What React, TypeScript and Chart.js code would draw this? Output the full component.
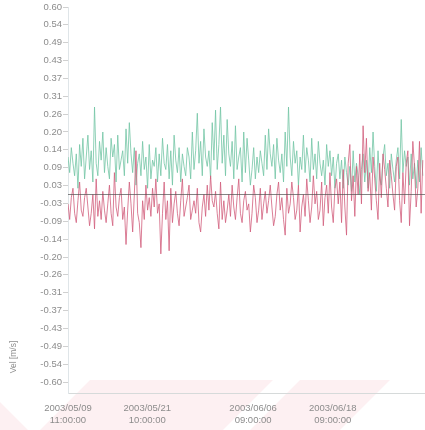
import React, { useEffect, useRef } from "react";
import { Chart, registerables } from "chart.js";

Chart.register(...registerables);

// ---- DATA ----
const START_UTC = "2003-05-09T11:00:00Z";
const STEP_HOURS = 6;
const X_MAX_HOURS = 1292;

const xTickDates = [
  "2003-05-09T11:00:00Z",
  "2003-05-21T10:00:00Z",
  "2003-06-06T09:00:00Z",
  "2003-06-18T09:00:00Z",
];
const xTickLabels = [
  ["2003/05/09", "11:00:00"],
  ["2003/05/21", "10:00:00"],
  ["2003/06/06", "09:00:00"],
  ["2003/06/18", "09:00:00"],
];

const yTickValues = [
  0.6, 0.5429, 0.4857, 0.4286, 0.3714, 0.3143, 0.2571, 0.2, 0.1429, 0.0857, 0.0286,
  -0.0286, -0.0857, -0.1429, -0.2, -0.2571, -0.3143, -0.3714, -0.4286, -0.4857, -0.5429, -0.6,
];
const yTickLabels = [
  "0.60", "0.54", "0.49", "0.43", "0.37", "0.31", "0.26", "0.20", "0.14", "0.09", "0.03",
  "-0.03", "-0.09", "-0.14", "-0.20", "-0.26", "-0.31", "-0.37", "-0.43", "-0.49", "-0.54", "-0.60",
];

const Y_TITLE = "Vel [m/s]";

const greenSeries = [
  0.12, 0.07, 0.15, 0.10, 0.06, 0.13, 0.02, 0.16, 0.09, 0.18,
  0.05, 0.12, 0.19, 0.08, 0.14, 0.04, 0.28, 0.10, 0.06, 0.17,
  0.11, 0.20, 0.07, 0.15, 0.09, 0.05, 0.18, 0.12, 0.16, 0.04,
  0.19, 0.08, 0.11, 0.14, 0.06, 0.21, 0.10, 0.23, 0.13, 0.07,
  0.15, 0.03, 0.10, 0.13, 0.06, 0.17, 0.08, 0.12, 0.02, 0.16,
  0.05, 0.11, 0.09, 0.15, 0.04,
  0.13, 0.06, 0.18, 0.10, 0.08, 0.16, 0.05, 0.14, 0.03, 0.19,
  0.11, 0.07, 0.15, 0.04, 0.13, 0.09, 0.06, 0.15, 0.12, 0.05,
  0.20, 0.08, 0.14, 0.26, 0.10, 0.17, 0.06, 0.21, 0.12, 0.09,
  0.14, 0.05, 0.23, 0.11, 0.27, 0.08, 0.16, 0.28, 0.10, 0.19,
  0.06, 0.24, 0.13, 0.09, 0.17, 0.05, 0.22, 0.08, 0.12, 0.15,
  0.04, 0.20, 0.07, 0.18,
  0.11, 0.03, 0.08, 0.15, 0.05, 0.12, 0.07, 0.14, 0.10, 0.06,
  0.19, 0.08, 0.21, 0.13, 0.09, 0.16, 0.05, 0.18, 0.11, 0.07,
  0.13, 0.04, 0.20, 0.09, 0.28, 0.12, 0.06, 0.17, 0.10, 0.14,
  0.03, 0.12, 0.08, 0.19, 0.07, 0.15, 0.11, 0.04, 0.18, 0.08,
  0.13, 0.05, 0.17, 0.10, 0.06, 0.11, 0.03, 0.16, 0.09, 0.14,
  0.06, 0.12, 0.02, 0.10,
  0.13, 0.05, 0.11, 0.02, 0.12, 0.07, 0.03, 0.09, 0.01, 0.14,
  0.04, 0.10, 0.06, 0.00, 0.08, 0.13, 0.04, 0.11, 0.02, 0.15,
  0.07, 0.20, 0.09, 0.01, 0.14, 0.05, 0.03, 0.12, 0.16, 0.06,
  0.10, 0.02, 0.13, 0.08, 0.04, 0.11, 0.15, 0.05, 0.24, 0.07,
  0.14, 0.09, 0.12, 0.03, 0.13, 0.05, 0.10, 0.02, 0.11, 0.04,
  0.15, 0.06,
];

const redSeries = [
  -0.03, -0.08, -0.01, 0.02, -0.06, -0.09, -0.02, 0.04, -0.05, -0.07,
  -0.01, 0.02, -0.04, -0.10, -0.06, 0.00, -0.11, 0.05, -0.07, -0.02,
  -0.08, 0.01, -0.05, -0.09, -0.03, 0.03, -0.06, -0.10, 0.07, -0.04,
  -0.07, -0.01, 0.02, -0.08, -0.04, -0.16, -0.05, 0.04, -0.03, -0.12,
  0.00, 0.14, -0.06, -0.09, -0.17, -0.02, -0.08, 0.03, -0.05, -0.01,
  -0.07, 0.02, -0.04, 0.05, -0.06,
  -0.03, -0.19, -0.06, 0.04, -0.08, -0.02, -0.18, 0.02, -0.09, -0.03,
  0.01, -0.06, -0.10, -0.02, 0.05, -0.07, -0.04, -0.01, 0.03, -0.08,
  -0.05, -0.02, -0.06, 0.02, -0.09, -0.12, -0.04, 0.00, -0.07, 0.03,
  -0.05, 0.06, -0.02, -0.04, 0.01, -0.06, -0.11, 0.04, -0.08, -0.02,
  -0.09, -0.05, 0.00, -0.07, 0.03, -0.04, -0.08, -0.01, 0.05, -0.06,
  -0.09, -0.02, 0.01, -0.05,
  -0.03, -0.12, -0.06, 0.03, -0.01, -0.09, -0.05, 0.02, -0.08, -0.03,
  0.01, -0.06, -0.02, 0.03, -0.04, -0.10, -0.07, 0.00, 0.04, -0.05,
  -0.01, -0.08, -0.13, 0.02, -0.06, -0.03, 0.04, -0.01, -0.08, -0.05,
  0.03, -0.12, -0.04, 0.00, -0.07, 0.05, -0.02, -0.09, -0.04, 0.06,
  -0.03, 0.01, -0.08, -0.05, 0.04, -0.10, -0.01, 0.03, -0.06, 0.07,
  -0.04, -0.09, 0.02, 0.05,
  -0.03, 0.04, -0.09, 0.08, -0.04, -0.13, 0.10, 0.16, -0.02, 0.06,
  -0.07, 0.09, 0.00, 0.13, -0.03, 0.22, 0.07, 0.18, 0.01, 0.07,
  -0.05, 0.12, 0.05, -0.02, -0.08, 0.10, -0.01, 0.13, 0.08, 0.02,
  -0.04, 0.11, 0.06, 0.00, -0.05, 0.09, 0.12, -0.02, -0.09, 0.07,
  -0.03, 0.10, 0.14, -0.10, 0.01, 0.17, 0.09, -0.04, 0.02, 0.17,
  -0.06, 0.11,
];

// ---- helpers ----
const startMs = Date.parse(START_UTC);
const hoursFromStart = (iso: string) => (Date.parse(iso) - startMs) / 3600000;
const xTickHours = xTickDates.map(hoursFromStart);
const toPoints = (arr: number[]) => arr.map((v, i) => ({ x: i * STEP_HOURS, y: v }));

const FONT = "'Liberation Sans', Arial, sans-serif";
const TEXT_COLOR = "#8c8c8c";

const backgroundPlugin = {
  id: "bgWatermark",
  beforeDraw(chart: any) {
    const { ctx, width, height } = chart;
    ctx.save();
    ctx.fillStyle = "#ffffff";
    ctx.fillRect(0, 0, width, height);
    ctx.fillStyle = "rgba(248, 205, 212, 0.3)";
    const polys = [
      [[0, 402], [0, 430], [28, 430]],
      [[90, 380], [273, 380], [223, 430], [40, 430]],
      [[300, 380], [390, 380], [340, 430], [250, 430]],
    ];
    for (const p of polys) {
      ctx.beginPath();
      ctx.moveTo(p[0][0], p[0][1]);
      for (let i = 1; i < p.length; i++) ctx.lineTo(p[i][0], p[i][1]);
      ctx.closePath();
      ctx.fill();
    }
    ctx.restore();
  },
};

const zeroLinePlugin = {
  id: "zeroLine",
  afterDatasetsDraw(chart: any) {
    const { ctx, chartArea, scales } = chart;
    const y = Math.round(scales.y.getPixelForValue(0)) + 0.5;
    ctx.save();
    ctx.strokeStyle = "rgba(80, 80, 80, 0.7)";
    ctx.lineWidth = 1;
    ctx.beginPath();
    ctx.moveTo(chartArea.left, y);
    ctx.lineTo(chartArea.right, y);
    ctx.stroke();
    ctx.restore();
  },
};

const yTitlePlugin = {
  id: "yTitle",
  afterDraw(chart: any) {
    const { ctx } = chart;
    ctx.save();
    ctx.translate(14, 357);
    ctx.rotate(-Math.PI / 2);
    ctx.fillStyle = TEXT_COLOR;
    ctx.font = `8.5px ${FONT}`;
    ctx.textAlign = "center";
    ctx.textBaseline = "middle";
    ctx.fillText(Y_TITLE, 0, 0);
    ctx.restore();
  },
};

export default function App() {
  const ref = useRef<HTMLCanvasElement | null>(null);

  useEffect(() => {
    if (!ref.current) return;
    const chart = new Chart(ref.current, {
      type: "line",
      data: {
        datasets: [
          {
            label: "red",
            data: toPoints(redSeries),
            borderColor: "rgba(210, 95, 125, 0.8)",
            borderWidth: 1,
            pointRadius: 0,
            tension: 0,
            fill: false,
          },
          {
            label: "green",
            data: toPoints(greenSeries),
            borderColor: "rgba(115, 198, 165, 0.8)",
            borderWidth: 1,
            pointRadius: 0,
            tension: 0,
            fill: false,
          },
        ],
      },
      options: {
        animation: false,
        responsive: false,
        maintainAspectRatio: false,
        layout: { padding: { top: 7, left: 0, right: 0, bottom: 0 } },
        plugins: {
          legend: { display: false },
          tooltip: { enabled: false },
        },
        scales: {
          x: {
            type: "linear",
            min: 0,
            max: X_MAX_HOURS,
            grid: { display: false, drawTicks: false },
            border: { display: true, color: "#d6dada", width: 1 },
            ticks: {
              autoSkip: false,
              maxRotation: 0,
              minRotation: 0,
              padding: 10,
              color: TEXT_COLOR,
              font: { family: FONT, size: 9.5 },
              callback: (_v: any, index: number) => xTickLabels[index],
            },
            afterBuildTicks: (scale: any) => {
              scale.ticks = xTickHours.map((v) => ({ value: v }));
            },
            afterFit: (scale: any) => {
              scale.height = 37;
            },
          },
          y: {
            type: "linear",
            min: -0.6352,
            max: 0.6,
            grid: {
              drawOnChartArea: false,
              drawTicks: true,
              tickLength: 5,
              color: "#d0d0d0",
            },
            border: { display: true, color: "#dfe5e8", width: 1 },
            ticks: {
              padding: 1,
              color: TEXT_COLOR,
              font: { family: FONT, size: 9.5 },
              callback: (_v: any, index: number) => yTickLabels[index],
            },
            afterBuildTicks: (scale: any) => {
              scale.ticks = yTickValues.map((v) => ({ value: v }));
            },
            afterFit: (scale: any) => {
              scale.width = 68;
            },
          },
        },
      },
      plugins: [backgroundPlugin, zeroLinePlugin, yTitlePlugin],
    } as any);
    return () => chart.destroy();
  }, []);

  return (
    <div style={{ position: "fixed", left: 0, top: 0, width: 425, height: 430 }}>
      <canvas ref={ref} width={425} height={430} style={{ display: "block" }} />
    </div>
  );
}
